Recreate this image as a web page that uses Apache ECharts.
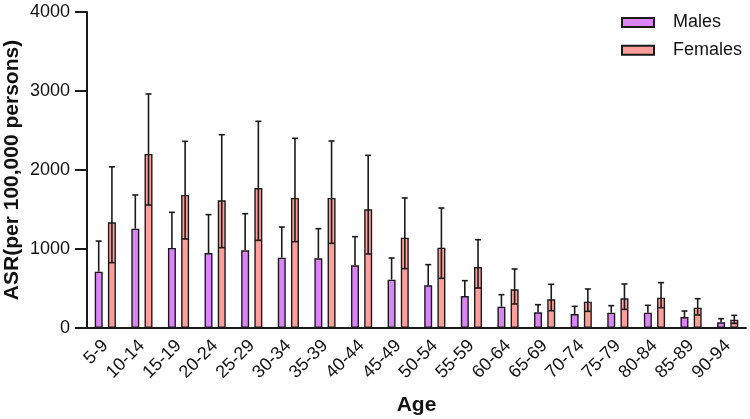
<!DOCTYPE html>
<html>
<head>
<meta charset="utf-8">
<script src="https://cdn.jsdelivr.net/npm/echarts@6/dist/echarts.min.js"></script>
<style>html,body{margin:0;padding:0;background:#fff}#c{width:750px;height:419px}</style>
</head>
<body>
<div id="c"></div>
<script>
var categories = ['5-9','10-14','15-19','20-24','25-29','30-34','35-39','40-44','45-49','50-54','55-59','60-64','65-69','70-74','75-79','80-84','85-89','90-94'];
var males = [713,1257,1013,949,983,890,882,793,612,540,405,270,198,177,194,194,139,72];
var malesUpper = [1100,1684,1464,1435,1447,1278,1257,1156,886,802,599,422,295,274,283,287,215,118];
var females = [1338,2203,1684,1616,1772,1646,1646,1502,1143,1017,772,489,363,333,376,384,257,105];
var femalesLower = [827,1557,1127,1017,1110,1093,1072,937,751,629,506,304,219,211,236,257,165,59];
var femalesUpper = [2040,2962,2363,2447,2616,2401,2367,2186,1646,1519,1118,747,553,494,557,574,371,160];
var yTicks = [0,1000,2000,3000,4000];

var FONT = "'Liberation Sans', Arial, sans-serif";
var BAR_W = 8, GAP = 5.2;
var OFF = (BAR_W + GAP) / 2;

function errData(mean, lo, hi) {
  return mean.map(function (m, i) { return [i, m, lo ? lo[i] : m, hi[i]]; });
}
function errRender(offset) {
  return function (params, api) {
    var idx = api.value(0);
    var pHi = api.coord([idx, api.value(3)]);
    var pLo = api.coord([idx, api.value(2)]);
    var x = pHi[0] + offset;
    var cap = 3;
    var st = { stroke: '#1a1a1a', lineWidth: 1.6 };
    return {
      type: 'group',
      children: [
        { type: 'line', shape: { x1: x, y1: pLo[1], x2: x, y2: pHi[1] }, style: st },
        { type: 'line', shape: { x1: x - cap, y1: pHi[1], x2: x + cap, y2: pHi[1] }, style: st },
        { type: 'line', shape: { x1: x - cap, y1: pLo[1], x2: x + cap, y2: pLo[1] }, style: st, invisible: api.value(2) === api.value(1) }
      ]
    };
  };
}

var chart = echarts.init(document.getElementById('c'), null, { renderer: 'canvas' });
chart.setOption({
  animation: false,
  backgroundColor: '#fff',
  textStyle: { fontFamily: FONT },
  grid: { left: 87, right: 4, top: 12, bottom: 91, containLabel: false, outerBoundsMode: 'none' },
  legend: {
    data: ['Males', 'Females'],
    orient: 'vertical',
    left: 616, top: 7.5,
    itemWidth: 32, itemHeight: 9, itemGap: 7.8,
    icon: 'rect',
    textStyle: { fontFamily: FONT, fontSize: 18, color: '#111', lineHeight: 20, padding: [0, 0, 0, 14] }
  },
  xAxis: {
    type: 'category',
    data: categories,
    name: 'Age',
    nameLocation: 'middle',
    nameGap: 67,
    nameMoveOverlap: false,
    nameTextStyle: { fontFamily: FONT, fontSize: 21, fontWeight: 'bold', color: '#111' },
    axisLine: { lineStyle: { color: '#1a1a1a', width: 2 } },
    axisTick: { alignWithLabel: true, length: 12, lineStyle: { color: '#1a1a1a', width: 2 } },
    axisLabel: { rotate: 45, fontFamily: FONT, fontSize: 18, color: '#111', margin: 15, interval: 0 }
  },
  yAxis: {
    type: 'value',
    min: yTicks[0], max: yTicks[yTicks.length - 1], interval: 1000,
    name: 'ASR(per 100,000 persons)',
    nameLocation: 'middle',
    nameGap: 64,
    nameMoveOverlap: false,
    nameTextStyle: { fontFamily: FONT, fontSize: 21, fontWeight: 'bold', color: '#111' },
    axisLine: { show: true, lineStyle: { color: '#1a1a1a', width: 2 } },
    axisTick: { show: true, length: 12, lineStyle: { color: '#1a1a1a', width: 2 } },
    axisLabel: { fontFamily: FONT, fontSize: 18, color: '#111', margin: 17, formatter: function (v) { return String(v); } },
    splitLine: { show: false }
  },
  series: [
    {
      name: 'Males', type: 'bar', data: males, barWidth: BAR_W, barGap: '65%',
      itemStyle: { color: '#DA84F8', borderColor: '#1a1a1a', borderWidth: 1.4 }, z: 2
    },
    {
      name: 'Females', type: 'bar', data: females, barWidth: BAR_W, barGap: '65%',
      itemStyle: { color: '#FF9F9B', borderColor: '#1a1a1a', borderWidth: 1.4 }, z: 2
    },
    {
      name: 'MalesErr', type: 'custom', data: errData(males, null, malesUpper),
      renderItem: errRender(-OFF), z: 3, encode: { x: 0, y: [1, 2, 3] }, silent: true
    },
    {
      name: 'FemalesErr', type: 'custom', data: errData(females, femalesLower, femalesUpper),
      renderItem: errRender(OFF), z: 3, encode: { x: 0, y: [1, 2, 3] }, silent: true
    }
  ]
});
</script>
</body>
</html>
